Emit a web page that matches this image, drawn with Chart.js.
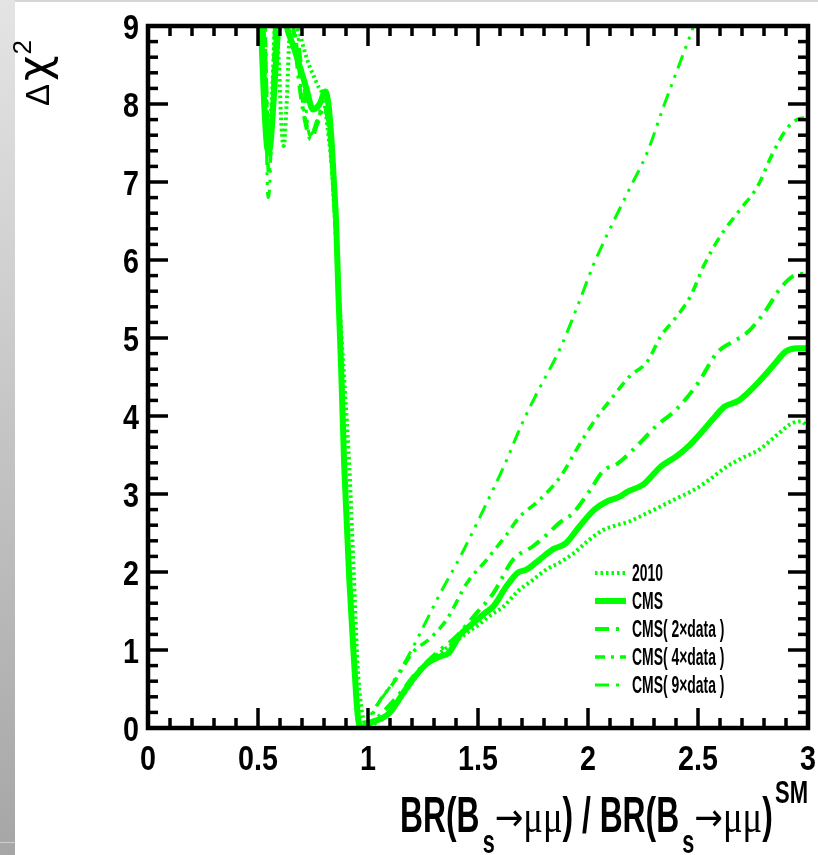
<!DOCTYPE html>
<html>
<head>
<meta charset="utf-8">
<script src="https://cdn.jsdelivr.net/npm/chart.js@4.4.1/dist/chart.umd.min.js"></script>
<style>
  html, body { margin: 0; padding: 0; background: #fff; }
  #wrap { position: relative; width: 818px; height: 855px; overflow: hidden; }
  #strip { position: absolute; left: 0; top: 0; width: 15px; height: 855px;
           background: linear-gradient(#e4e4e4, #a6a6a6); }
  #strip-line { position: absolute; left: 0; top: 842px; width: 15px; height: 1px; background: #cfcfcf; }
  #top-line { position: absolute; left: 15px; top: 0; width: 803px; height: 2px; background: #d6d6d6; }
  canvas { position: absolute; left: 0; top: 0; }
</style>
</head>
<body>
<div id="wrap">
  <div id="strip"></div>
  <div id="strip-line"></div>
  <div id="top-line"></div>
  <canvas id="chi2" width="818" height="855"></canvas>
</div>
<script>
// ---- data: [BR ratio, delta chi2] ----
const seriesLabels = ['2010', 'CMS', 'CMS( 2\u00D7data )', 'CMS( 4\u00D7data )', 'CMS( 9\u00D7data )']

const pts2010 = [
  [0.52, 9.4], [0.535, 8.2], [0.55, 7.6], [0.565, 8.2], [0.58, 9.1], [0.595, 8.5], [0.607, 7.7],
  [0.617, 7.46], [0.63, 8.0], [0.645, 9.0], [0.66, 9.4], [0.68, 9.05], [0.72, 8.6], [0.77, 8.25],
  [0.80, 8.05], [0.82, 7.6], [0.835, 7.2], [0.844, 6.78], [0.86, 6.0], [0.88, 5.0], [0.90, 4.1],
  [0.915, 3.35], [0.935, 2.0], [0.953, 0.79], [0.968, 0.3], [0.98, 0.1], [0.995, 0.0], [1.05, 0.1],
  [1.10, 0.2], [1.16, 0.42], [1.22, 0.66], [1.28, 0.86], [1.33, 0.97], [1.39, 1.09], [1.45, 1.22],
  [1.50, 1.32], [1.56, 1.45], [1.617, 1.56], [1.68, 1.75], [1.75, 1.9], [1.81, 2.03], [1.87, 2.12],
  [1.935, 2.24], [2.0, 2.4], [2.07, 2.54], [2.13, 2.6], [2.18, 2.64], [2.25, 2.73], [2.33, 2.84],
  [2.40, 2.94], [2.48, 3.05], [2.55, 3.18], [2.63, 3.35], [2.70, 3.46], [2.78, 3.57], [2.86, 3.76],
  [2.93, 3.91], [2.97, 3.93], [3.0, 3.85]
]

const ptsCms = [
  [0.505, 9.6], [0.515, 8.9], [0.53, 7.9], [0.545, 7.4], [0.555, 7.45], [0.57, 8.0], [0.585, 8.7],
  [0.60, 9.2], [0.615, 9.3], [0.63, 9.0], [0.66, 8.75], [0.69, 8.48], [0.72, 8.2], [0.75, 7.93],
  [0.78, 8.0], [0.806, 8.16], [0.82, 8.0], [0.835, 7.5], [0.845, 7.0], [0.855, 6.5], [0.865, 5.6],
  [0.878, 4.6], [0.892, 3.35], [0.915, 1.9], [0.938, 0.79], [0.952, 0.2], [0.965, 0.0], [0.99, 0.03],
  [1.02, 0.08], [1.06, 0.12], [1.10, 0.2], [1.16, 0.45], [1.22, 0.68], [1.27, 0.83], [1.33, 0.92],
  [1.366, 0.96], [1.42, 1.2], [1.48, 1.35], [1.53, 1.47], [1.57, 1.56], [1.63, 1.82], [1.68, 1.99],
  [1.72, 2.03], [1.78, 2.16], [1.84, 2.29], [1.90, 2.37], [1.96, 2.58], [2.03, 2.8], [2.09, 2.91],
  [2.14, 2.96], [2.18, 3.03], [2.25, 3.12], [2.33, 3.35], [2.40, 3.48], [2.46, 3.62], [2.525, 3.82],
  [2.58, 4.0], [2.62, 4.12], [2.68, 4.19], [2.72, 4.28], [2.77, 4.42], [2.84, 4.64], [2.90, 4.83],
  [2.95, 4.87], [3.0, 4.87]
]

const pts2x = [
  [0.525, 9.5], [0.54, 8.0], [0.55, 7.3], [0.56, 7.5], [0.575, 8.5], [0.59, 9.3], [0.64, 9.4],
  [0.66, 9.0], [0.69, 8.2], [0.72, 7.7], [0.74, 7.55], [0.77, 7.75], [0.80, 7.95], [0.815, 7.9],
  [0.83, 7.5], [0.845, 6.9], [0.86, 6.0], [0.878, 4.6], [0.893, 3.35], [0.915, 1.95], [0.938, 0.8],
  [0.952, 0.2], [0.965, 0.0], [1.0, 0.04], [1.05, 0.15], [1.10, 0.3], [1.147, 0.45], [1.22, 0.71],
  [1.31, 0.96], [1.40, 1.17], [1.48, 1.43], [1.57, 1.73], [1.66, 2.16], [1.75, 2.33], [1.81, 2.47],
  [1.87, 2.63], [1.93, 2.75], [2.01, 3.05], [2.07, 3.3], [2.13, 3.38], [2.22, 3.61], [2.31, 3.87],
  [2.40, 4.08], [2.50, 4.42], [2.586, 4.81], [2.65, 4.94], [2.72, 5.06], [2.80, 5.32], [2.87, 5.62],
  [2.93, 5.79], [2.97, 5.82], [3.0, 5.8]
]

const pts4x = [
  [0.53, 9.5], [0.54, 8.0], [0.548, 7.1], [0.556, 7.3], [0.57, 8.4], [0.585, 9.3], [0.65, 9.4],
  [0.67, 8.9], [0.70, 8.1], [0.72, 7.75], [0.74, 7.6], [0.77, 7.8], [0.80, 7.95], [0.82, 7.7],
  [0.84, 7.0], [0.86, 5.9], [0.878, 4.6], [0.893, 3.4], [0.915, 2.0], [0.938, 0.8], [0.952, 0.2],
  [0.965, 0.0], [1.0, 0.08], [1.056, 0.36], [1.116, 0.58], [1.207, 0.98], [1.283, 1.15], [1.36, 1.4],
  [1.45, 1.86], [1.54, 2.16], [1.63, 2.48], [1.69, 2.71], [1.77, 2.9], [1.874, 3.22], [1.95, 3.58],
  [2.025, 3.92], [2.10, 4.2], [2.19, 4.51], [2.27, 4.7], [2.33, 5.02], [2.39, 5.23], [2.465, 5.53],
  [2.525, 5.92], [2.60, 6.3], [2.69, 6.64], [2.77, 6.94], [2.84, 7.37], [2.905, 7.69], [2.95, 7.8],
  [2.98, 7.82], [3.0, 7.8]
]

const pts9x = [
  [0.525, 9.5], [0.535, 8.0], [0.545, 6.8], [0.552, 6.9], [0.565, 8.0], [0.58, 9.3], [0.65, 9.5],
  [0.68, 8.9], [0.71, 8.2], [0.735, 7.6], [0.76, 7.7], [0.79, 7.95], [0.81, 7.9], [0.83, 7.4],
  [0.845, 6.8], [0.862, 5.8], [0.878, 4.6], [0.893, 3.4], [0.915, 2.0], [0.938, 0.8], [0.955, 0.2],
  [0.97, 0.0], [1.0, 0.1], [1.025, 0.23], [1.10, 0.53], [1.19, 0.96], [1.268, 1.39], [1.329, 1.73],
  [1.42, 2.2], [1.525, 2.8], [1.617, 3.35], [1.70, 3.9], [1.76, 4.25], [1.874, 4.87], [1.95, 5.39],
  [2.025, 5.94], [2.10, 6.4], [2.19, 6.92], [2.268, 7.37], [2.344, 7.97], [2.434, 8.65], [2.48, 9.0],
  [2.52, 9.35]
]

// axis ticks
const xTickValues = [0, 0.5, 1, 1.5, 2, 2.5, 3]
const xTickLabels = ['0', '0.5', '1', '1.5', '2', '2.5', '3']
const yTickValues = [0, 1, 2, 3, 4, 5, 6, 7, 8, 9]
const yTickLabels = ['0', '1', '2', '3', '4', '5', '6', '7', '8', '9']

const GREEN = '#00ff00'
const SANS = '"Liberation Sans", Arial, sans-serif'

const toXY = arr => arr.map(([x, y]) => ({ x, y }))

// draws a string squeezed horizontally (ROOT uses a narrow helvetica)
function narrowText(ctx, text, x, y, sx, align) {
  const w = ctx.measureText(text).width * sx
  let x0 = x
  if (align === 'right') x0 = x - w
  else if (align === 'center') x0 = x - w / 2
  ctx.save()
  ctx.translate(x0, y)
  ctx.scale(sx, 1)
  ctx.textAlign = 'left'
  ctx.fillText(text, 0, 0)
  ctx.restore()
  return w
}

// ================== frame, ticks, labels (ROOT look) ==================
const rootFrame = {
  id: 'rootFrame',
  afterDatasetsDraw(chart) {
    const { ctx, chartArea: a, scales: { x, y } } = chart
    ctx.save()
    ctx.strokeStyle = '#000'
    ctx.fillStyle = '#000'
    ctx.lineCap = 'butt'

    const seg = (x1, y1, x2, y2) => { ctx.beginPath(); ctx.moveTo(x1, y1); ctx.lineTo(x2, y2); ctx.stroke() }

    // ticks inside the frame on all four sides
    ctx.lineWidth = 3.5
    for (let i = 0; i <= 30; i++) {
      const px = x.getPixelForValue(i / 10)
      const len = i % 5 === 0 ? 20 : 10
      seg(px, a.bottom, px, a.bottom - len)
      seg(px, a.top, px, a.top + len)
    }
    for (let i = 0; i <= 45; i++) {
      const py = y.getPixelForValue(i / 5)
      const len = i % 5 === 0 ? 20 : 10
      seg(a.left, py, a.left + len, py)
      seg(a.right, py, a.right - len, py)
    }

    ctx.lineWidth = 4.5
    ctx.strokeRect(a.left, a.top, a.right - a.left, a.bottom - a.top)

    // tick labels
    ctx.font = 'bold 35px ' + SANS
    ctx.textBaseline = 'alphabetic'
    xTickValues.forEach((v, i) => {
      narrowText(ctx, xTickLabels[i], x.getPixelForValue(v), 770, 0.82, 'center')
    })
    ctx.textBaseline = 'middle'
    yTickValues.forEach((v, i) => {
      narrowText(ctx, yTickLabels[i], 139, y.getPixelForValue(v) + 3, 0.82, 'right')
    })

    // y title: delta chi^2, rotated
    ctx.save()
    ctx.translate(49, 106)
    ctx.rotate(-Math.PI / 2)
    ctx.textBaseline = 'alphabetic'
    ctx.textAlign = 'left'
    ctx.font = '33px ' + SANS
    ctx.fillText('\u0394', 0, 0)
    let off = ctx.measureText('\u0394').width + 3
    ctx.font = '44px "DejaVu Sans"'
    ctx.fillText('\u03C7', off, 0)
    off += ctx.measureText('\u03C7').width + 1
    ctx.font = '26px ' + SANS
    ctx.fillText('2', off, -18)
    ctx.restore()

    // x title: BR(Bs->mumu) / BR(Bs->mumu)^SM, right aligned
    const B = 'bold 50px ' + SANS
    const S = 'bold 34px ' + SANS
    const A = '38px "DejaVu Sans"'
    const M = '46px "Liberation Serif"'
    const parts = [
      { t: 'BR(B', f: B, sx: 0.6, dy: 0 },
      { t: 's', f: S, sx: 0.6, dy: 21, pad: 3 },
      { t: '\u2192', f: A, sx: 0.85, dy: -2 },
      { t: '\u03BC\u03BC', f: M, sx: 0.75, dy: 0 },
      { t: ') / BR(B', f: B, sx: 0.6, dy: 0 },
      { t: 's', f: S, sx: 0.6, dy: 21, pad: 3 },
      { t: '\u2192', f: A, sx: 0.85, dy: -2 },
      { t: '\u03BC\u03BC', f: M, sx: 0.75, dy: 0 },
      { t: ')', f: B, sx: 0.6, dy: 0 },
      { t: 'SM', f: 'bold 32px ' + SANS, sx: 0.65, dy: -29, pad: 2 }
    ]
    let total = 0
    parts.forEach(p => { ctx.font = p.f; p.w = ctx.measureText(p.t).width * p.sx + (p.pad || 0); total += p.w })
    const k = 408 / total
    let cx = 808 - total * k
    ctx.textBaseline = 'alphabetic'
    parts.forEach(p => {
      ctx.font = p.f
      narrowText(ctx, p.t, cx + (p.pad || 0) * k, 832 + p.dy, p.sx * k, 'left')
      cx += p.w * k
    })
    ctx.restore()
  }
}

// ================== legend (drawn like ROOT's TLegend) ==================
const rootLegend = {
  id: 'rootLegend',
  afterDraw(chart) {
    const { ctx } = chart
    ctx.save()
    chart.data.datasets.forEach((ds, i) => {
      const cy = 573 + i * 28
      ctx.strokeStyle = ds.borderColor
      ctx.lineWidth = ds.borderWidth
      ctx.setLineDash(ds.borderDash || [])
      ctx.beginPath()
      ctx.moveTo(595, cy)
      ctx.lineTo(626, cy)
      ctx.stroke()
      ctx.setLineDash([])
      ctx.fillStyle = '#000'
      ctx.font = 'bold 24px ' + SANS
      ctx.textBaseline = 'middle'
      narrowText(ctx, ds.label, 632, cy + 1, 0.58, 'left')
    })
    ctx.restore()
  }
}

const lineDefaults = {
  showLine: true,
  borderColor: GREEN,
  pointRadius: 0,
  cubicInterpolationMode: 'monotone',
  clip: 2,
  fill: false
}

new Chart(document.getElementById('chi2'), {
  type: 'scatter',
  data: {
    datasets: [
      { ...lineDefaults, label: seriesLabels[0], data: toXY(pts2010), borderWidth: 4, borderDash: [2.5, 3] },
      { ...lineDefaults, label: seriesLabels[1], data: toXY(ptsCms), borderWidth: 6 },
      { ...lineDefaults, label: seriesLabels[2], data: toXY(pts2x), borderWidth: 4, borderDash: [14, 7, 3, 7] },
      { ...lineDefaults, label: seriesLabels[3], data: toXY(pts4x), borderWidth: 3.5, borderDash: [10, 6, 3, 6] },
      { ...lineDefaults, label: seriesLabels[4], data: toXY(pts9x), borderWidth: 3, borderDash: [14, 7, 3, 7, 3, 7] }
    ]
  },
  options: {
    responsive: false,
    animation: false,
    layout: { padding: { left: 148, right: 10, top: 26, bottom: 127 } },
    scales: {
      x: { type: 'linear', min: 0, max: 3, display: false },
      y: { type: 'linear', min: 0, max: 9, display: false }
    },
    plugins: { legend: { display: false }, tooltip: { enabled: false } }
  },
  plugins: [rootFrame, rootLegend]
})
</script>
</body>
</html>
